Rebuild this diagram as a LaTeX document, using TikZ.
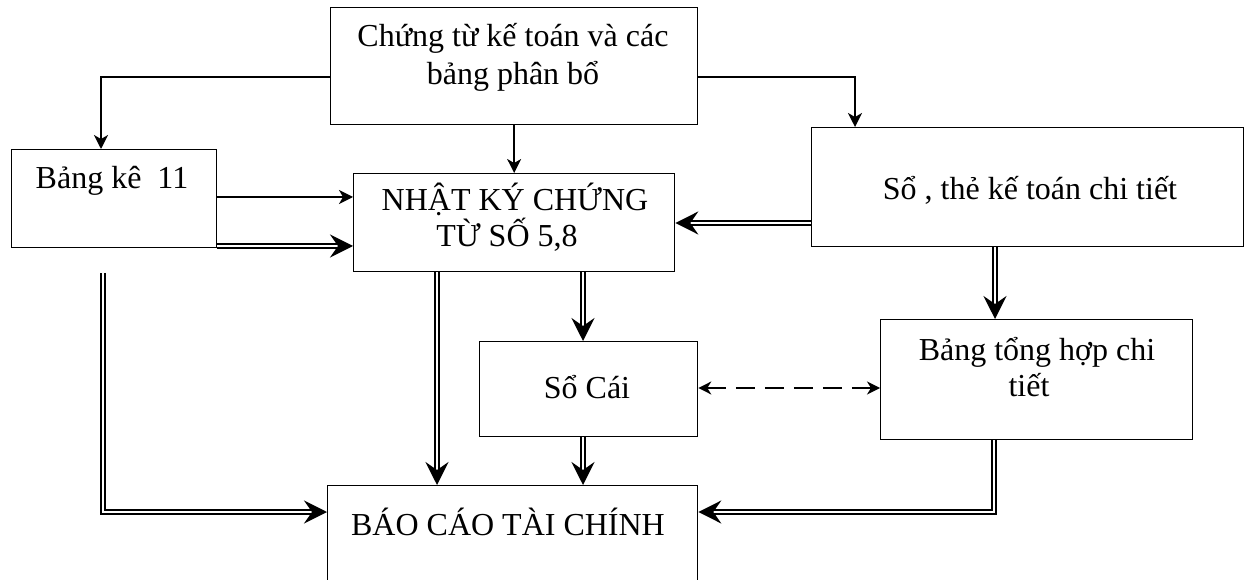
\documentclass[tikz,border=0pt]{standalone}
\usepackage{fontspec}
\setmainfont{Liberation Serif}
\usetikzlibrary{arrows.meta}
\begin{document}
\begin{tikzpicture}[x=1pt,y=-1pt,
 box/.style={draw, line width=1.3pt, inner sep=0pt},
 txt/.style={font=\fontsize{32}{38}\selectfont, anchor=base, inner sep=0pt},
 sarr/.style={line width=1.4pt, -{Stealth[length=14pt,width=14pt,inset=4pt]}},
 dbl/.style={double, double distance=2.4pt, line width=1.7pt},
 darr/.style={dbl, -{Stealth[length=23pt,width=23pt,inset=8pt]}},
 dasharr/.style={line width=1.4pt, dash pattern=on 19pt off 10pt, {Stealth[length=13pt,width=13pt,inset=4pt]}-{Stealth[length=13pt,width=13pt,inset=4pt]}}
]
\useasboundingbox (0,0) rectangle (1254,580);
\clip (0,0) rectangle (1254,580);
% boxes
\node[box, anchor=north west, minimum width=367pt, minimum height=117pt] (ct) at (330,7) {};
\node[box, anchor=north west, minimum width=205pt, minimum height=98pt] (bk) at (11,149) {};
\node[box, anchor=north west, minimum width=321pt, minimum height=98pt] (nk) at (353,173) {};
\node[box, anchor=north west, minimum width=432pt, minimum height=119pt] (st) at (811,127) {};
\node[box, anchor=north west, minimum width=218pt, minimum height=95pt] (sc) at (479,341) {};
\node[box, anchor=north west, minimum width=312pt, minimum height=120pt] (bt) at (880,319) {};
\node[box, anchor=north west, minimum width=370pt, minimum height=130pt] (bc) at (327,485) {};
% texts
\node[txt] (t1) at (513,47) {Chứng từ kế toán và các};
\node[txt] (t2) at (513,85) {bảng phân bổ};
\node[txt] (t3) at (112,189) {Bảng kê~ 11};
\node[txt] (t4) at (515,211) {NHẬT KÝ CHỨNG};
\node[txt] (t5) at (507,247) {TỪ SỐ 5,8};
\node[txt] (t6) at (1030,200) {Sổ , thẻ kế toán chi tiết};
\node[txt] (t7) at (587,398) {Sổ Cái};
\node[txt] (t8) at (1037,360) {Bảng tổng hợp chi};
\node[txt] (t9) at (1029,396) {tiết};
\node[txt] (t10) at (508,535) {BÁO CÁO TÀI CHÍNH};
% helper coordinates
\coordinate (e1) at (101,77);
\coordinate (e2) at (855,77);
\coordinate (e3) at (0,197);
\coordinate (e4) at (0,246);
\coordinate (e5) at (0,223);
\coordinate (e6) at (437,0);
\coordinate (e7) at (583,0);
\coordinate (e8) at (995,0);
\coordinate (e9) at (994,512);
\coordinate (e10) at (103,273);
\coordinate (e11) at (103,512);
\coordinate (e12) at (0,388);
% single arrows
\draw[sarr] (ct.west |- e1) -| (bk.north -| e1);
\draw[sarr] (ct.east |- e2) -| (st.north -| e2);
\draw[sarr] (ct.south) -- (ct.south |- nk.north);
\draw[sarr] (bk.east |- e3) -- (nk.west |- e3);
% double arrows
\draw[darr] (bk.east |- e4) -- (nk.west |- e4);
\draw[darr] (st.west |- e5) -- (nk.east |- e5);
\draw[darr] (nk.south -| e6) -- (bc.north -| e6);
\draw[darr] (nk.south -| e7) -- (sc.north -| e7);
\draw[darr] (sc.south -| e7) -- (bc.north -| e7);
\draw[darr] (st.south -| e8) -- (bt.north -| e8);
\draw[darr] (bt.south -| e9) |- (bc.east |- e9);
\draw[darr] (e10) |- (bc.west |- e11);
% dashed
\draw[dasharr] (sc.east |- e12) -- (bt.west |- e12);
\end{tikzpicture}
\end{document}
